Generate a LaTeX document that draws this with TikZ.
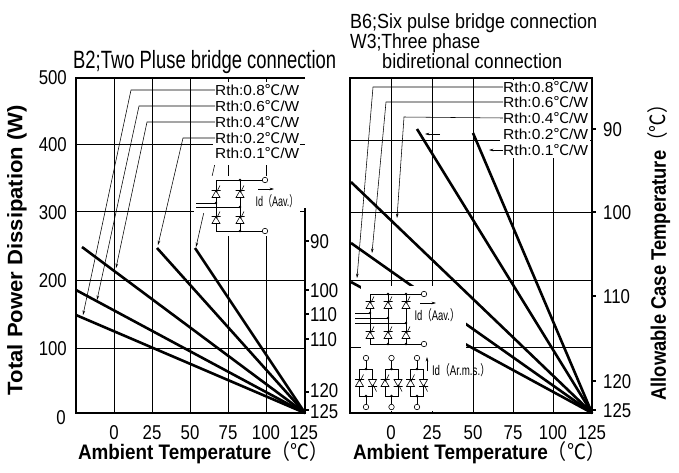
\documentclass[tikz,border=0pt]{standalone}
\usepackage{fontspec}
\usepackage{graphicx}
\setmainfont{Liberation Sans}
\newfontfamily\cjkf{Noto Sans CJK JP}
\usetikzlibrary{arrows.meta}
\newcommand{\dgc}{{\cjkf ℃}}
\newcommand{\fitw}[2]{\resizebox{#1}{\height}{#2}}
\newcommand{\nar}[1]{\scalebox{0.84}[1]{#1}}
\begin{document}
\begin{tikzpicture}[x=1pt,y=-1pt,
  grid/.style={line width=0.7pt},
  frame/.style={line width=1.1pt},
  curve/.style={line width=2.6pt},
  lead/.style={line width=0.55pt},
  arr/.style={lead,-{Stealth[length=4.5pt,width=2.6pt]}},
  wire/.style={line width=0.7pt},
  tick/.style={inner sep=0pt,text height=14pt,text depth=0pt,font=\fontsize{20}{22}\selectfont},
  rth/.style={inner sep=0pt,anchor=west,font=\fontsize{14.5}{16}\selectfont},
  mask/.style={fill=white},
  term/.style={draw,circle,fill=white,inner sep=0pt,minimum size=5.5pt,line width=0.6pt},
  jdot/.style={circle,fill,inner sep=0pt,minimum size=2.6pt},
  small/.style={inner sep=0pt,font=\fontsize{14}{16}\selectfont},
  axt/.style={inner sep=0pt,font=\fontsize{21}{25}\selectfont\bfseries},
  ttl/.style={inner sep=0pt,anchor=base west},
  thyup/.pic={
    \draw[line width=0.6pt,fill=white] (-4,3.5) -- (4,3.5) -- (0,-3.5) -- cycle;
    \draw[line width=0.6pt] (-4.5,-3.5) -- (4.5,-3.5) (0.5,-1.5) -- (4,-8.5);},
  thydn/.pic={
    \draw[line width=0.6pt,fill=white] (-4,-3.5) -- (4,-3.5) -- (0,3.5) -- cycle;
    \draw[line width=0.6pt] (-4.5,3.5) -- (4.5,3.5) (0.5,1.5) -- (4,8.5);}
]
\useasboundingbox (0,0) rectangle (679,472);
\fill[white] (0,0) rectangle (679,472);

%================ LEFT PLOT ================
\foreach \x in {114,152,190,228,266} \draw[grid] (\x,78) -- (\x,413);
\foreach \y in {144,211,280,348} \draw[grid] (76,\y) -- (305,\y);
% leader of 0.1 passes under the masks
\coordinate (L1s) at (216,159);
\coordinate (L1t) at (196,247);
\draw[arr] (L1s) -- (L1t);
% masks
\fill[mask] (213,82) rectangle (300,165);
\fill[mask] (205,176) rectangle (300,236);
\fill[mask] (194,199) rectangle (205,213);
\node[rth] (L1) at (215,153) {\fitw{84pt}{Rth:0.1\dgc/W}};
% frame
\draw[frame] (305,78) -- (76,78) -- (76,413) -- (305,413) -- (305,208);
\foreach \y in {241,290,314,339,392,410} \draw[frame] (305,\y) -- (309,\y);
% data lines
\coordinate (LE) at (305,413);
\coordinate (La) at (76,315); \coordinate (Lb) at (76,290); \coordinate (Lc) at (82,247);
\coordinate (Ld) at (157,248); \coordinate (Lf) at (195,248);
\foreach \p in {La,Lb,Lc,Ld,Lf} \draw[curve] (\p) -- (LE);
% labels and leaders
\node[rth] (L8) at (215,90) {\fitw{84pt}{Rth:0.8\dgc/W}};
\node[rth] (L6) at (215,106) {\fitw{84pt}{Rth:0.6\dgc/W}};
\node[rth] (L4) at (215,122) {\fitw{84pt}{Rth:0.4\dgc/W}};
\node[rth] (L2) at (215,138) {\fitw{84pt}{Rth:0.2\dgc/W}};
\coordinate (L8c) at (131,90);  \coordinate (L8t) at (83,315);
\coordinate (L6c) at (139,106); \coordinate (L6t) at (97,300);
\coordinate (L4c) at (147,122); \coordinate (L4t) at (116,268);
\coordinate (L2c) at (183,138); \coordinate (L2t) at (158,245);
\draw[arr] (L8.west) -- (L8c) -- (L8t);
\draw[arr] (L6.west) -- (L6c) -- (L6t);
\draw[arr] (L4.west) -- (L4c) -- (L4t);
\draw[arr] (L2.west) -- (L2c) -- (L2t);
% left circuit
\coordinate (c1) at (216,180); \coordinate (c2) at (240,180);
\coordinate (c3) at (216,231); \coordinate (c4) at (240,231);
\node[term] (lp) at (265,180) {}; \node[term] (ln) at (265,231) {};
\draw[wire] (c3) -- (c1) -- (lp.west);
\draw[wire] (c2) -- (c4);
\draw[wire] (c3) -- (ln.west);
\coordinate (la1) at (196,203); \coordinate (lm1) at (216,203);
\coordinate (la2) at (196,207); \coordinate (lm2) at (240,207);
\draw[wire] (la1) -- (lm1); \draw[wire] (la2) -- (lm2);
\foreach \x/\y in {216/194,240/194,216/220,240/220} \pic at (\x,\y) {thyup};
\foreach \p in {c2,c4,lm1,lm2} \node[jdot] at (\p) {};
\coordinate (lia) at (258,189); \coordinate (lib) at (274,189);
\draw[arr] (lia) -- (lib);
\node[small] (lid) at (277,201) {\fitw{43pt}{Id{\cjkf（}Aav.{\cjkf）}}};
% axis labels
\foreach \v/\y in {500/77,400/144,300/212,200/280,100/348}
  \node[tick,anchor=east] (ly\v) at (67,\y) {\nar{\v}};
\node[tick] (ly0) at (61,417) {\nar{0}};
\foreach \v/\x in {0/114,25/152,50/190,75/228,100/266,125/304}
  \node[tick] (lx\v) at (\x,432) {\nar{\v}};
\foreach \v/\y [count=\i] in {90/241,100/290,110/314,110/339,120/390.5,125/411}
  \node[tick,anchor=west] (lr\i) at (310,\y) {\nar{\v}};
\node[ttl,font=\fontsize{25}{30}\selectfont] (t1) at (73,68) {\fitw{263pt}{B2;Two Pluse bridge connection}};
\node[axt] (xl1) at (203,453) {\fitw{250pt}{Ambient Temperature{\mdseries\cjkf（℃）}}};
\node[axt,rotate=90] (yl1) at (17,250) {\fitw{290pt}{Total Power Dissipation (W)}};

%================ RIGHT PLOT ================
\foreach \x in {391,432,473,513,553} \draw[grid] (\x,78) -- (\x,413);
\foreach \y in {140,212,280,347} \draw[grid] (350,\y) -- (592,\y);
\coordinate (RE) at (592,413);
\coordinate (Ra) at (351,282); \coordinate (Rb) at (351,243); \coordinate (Rc) at (351,182);
\coordinate (Rd) at (417,129); \coordinate (Rf) at (473,133);
\draw[curve] (Ra) -- (RE); \draw[curve] (Rb) -- (RE);
\fill[mask] (361,286) rectangle (466,411);
\fill[mask] (500,80) rectangle (590,158);
\draw[frame] (350,78) rectangle (592,413);
\foreach \y in {129,212,296,381,410} \draw[frame] (592,\y) -- (596,\y);
\draw[curve] (Rc) -- (RE); \draw[curve] (Rd) -- (RE); \draw[curve] (Rf) -- (RE);
\node[rth] (R8) at (503,87) {\fitw{85pt}{Rth:0.8\dgc/W}};
\node[rth] (R6) at (503,102) {\fitw{85pt}{Rth:0.6\dgc/W}};
\node[rth] (R4) at (503,118) {\fitw{85pt}{Rth:0.4\dgc/W}};
\node[rth] (R2) at (503,134) {\fitw{85pt}{Rth:0.2\dgc/W}};
\node[rth] (R1) at (503,150) {\fitw{85pt}{Rth:0.1\dgc/W}};
\coordinate (R8c) at (373,87);  \coordinate (R8t) at (357,278);
\coordinate (R6c) at (386,102); \coordinate (R6t) at (372,253);
\coordinate (R4c) at (404,117); \coordinate (R4t) at (397,218);
\draw[arr] (R8.west) -- (R8c) -- (R8t);
\draw[arr] (R6.west) -- (R6c) -- (R6t);
\draw[arr] (R4.west) -- (R4c) -- (R4t);
\coordinate (R2s) at (440,134); \coordinate (R2t) at (425,134);
\draw[arr] (R2s) -- (R2t);
\coordinate (R1t) at (489,150);
\draw[arr] (R1.west) -- (R1t);
% six pulse bridge
\coordinate (s1) at (370,294); \coordinate (s2) at (388,294); \coordinate (s3) at (406,294);
\coordinate (s4) at (370,344); \coordinate (s5) at (388,344); \coordinate (s6) at (406,344);
\node[term] (sp) at (424,294) {}; \node[term] (sn) at (424,344) {};
\draw[wire] (s1) -- (sp.west); \draw[wire] (s4) -- (sn.west);
\draw[wire] (s1) -- (s4); \draw[wire] (s2) -- (s5); \draw[wire] (s3) -- (s6);
\coordinate (sa1) at (355,313); \coordinate (sm1) at (370,313);
\coordinate (sa2) at (355,318); \coordinate (sm2) at (388,318);
\coordinate (sa3) at (355,323); \coordinate (sm3) at (406,323);
\draw[wire] (sa1) -- (sm1); \draw[wire] (sa2) -- (sm2); \draw[wire] (sa3) -- (sm3);
\foreach \x in {370,388,406} {\pic at (\x,305) {thyup}; \pic at (\x,335) {thyup};}
\foreach \p in {s2,s3,s5,s6,sm1,sm2,sm3} \node[jdot] at (\p) {};
\coordinate (ria) at (420,303); \coordinate (rib) at (436,303);
\draw[arr] (ria) -- (rib);
\node[small] (rid) at (437,315) {\fitw{45pt}{Id{\cjkf（}Aav.{\cjkf）}}};
% three phase bidirectional
\foreach \cx/\n in {366/1,391.5/2,417/3} {
  \node[term] (ut\n) at (\cx,358) {};
  \node[term] (ub\n) at (\cx,407) {};
  \coordinate (bt\n) at (\cx,369); \coordinate (bb\n) at (\cx,396);
  \draw[wire] (ut\n.south) -- (bt\n);
  \draw[wire] (\cx-6.5,369) rectangle (\cx+6.5,396);
  \draw[wire] (bb\n) -- (ub\n.north);
  \pic at (\cx-6.5,383) {thyup};
  \pic at (\cx+6.5,383) {thydn};
  \node[jdot] at (bt\n) {}; \node[jdot] at (bb\n) {};
}
\coordinate (rja) at (427,371); \coordinate (rjb) at (427,357);
\draw[arr] (rja) -- (rjb);
\node[small] (rjd) at (461,370) {\fitw{58pt}{Id{\cjkf（}Ar.m.s.{\cjkf）}}};
% axis labels
\foreach \v/\x in {0/391,25/432,50/473,75/513,100/553,125/592}
  \node[tick] (rx\v) at (\x,432) {\nar{\v}};
\foreach \v/\y in {90/129,100/212,110/296,120/381,125/410}
  \node[tick,anchor=west] (ry\v) at (603,\y) {\nar{\v}};
\node[ttl,font=\fontsize{20.5}{24}\selectfont] (t2) at (350,28) {\fitw{247pt}{B6;Six pulse bridge connection}};
\node[ttl,font=\fontsize{20.5}{24}\selectfont] (t3) at (350,48) {\fitw{130pt}{W3;Three phase}};
\node[ttl,font=\fontsize{20.5}{24}\selectfont] (t4) at (382,68) {\fitw{180pt}{bidiretional connection}};
\node[axt] (xl2) at (479,453) {\fitw{252pt}{Ambient Temperature{\mdseries\cjkf（℃）}}};
\node[axt,rotate=90] (yl2) at (659,248) {\fitw{305pt}{Allowable Case Temperature{\mdseries\cjkf（℃）}}};
\end{tikzpicture}
\end{document}
